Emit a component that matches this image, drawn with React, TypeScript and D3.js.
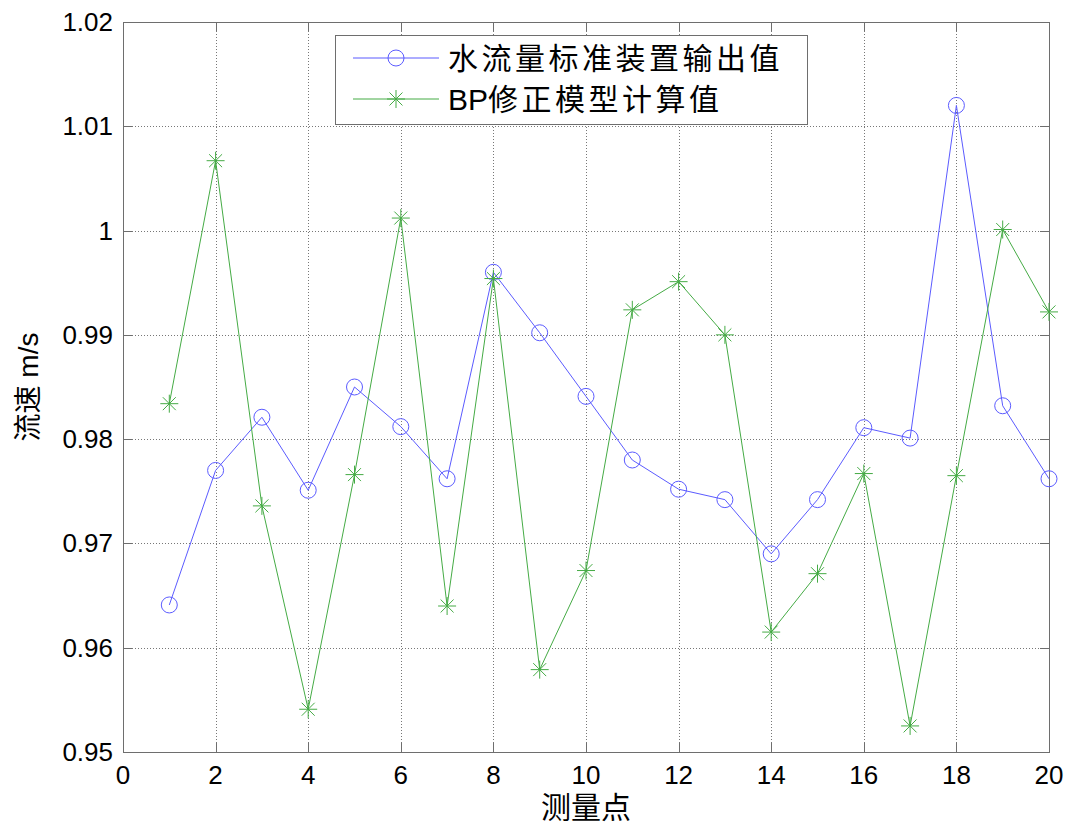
import { useEffect, useRef } from 'react';
import * as d3 from 'd3';

// Measurement point index 1..20
const points = d3.range(1, 21);

// 水流量标准装置输出值 (reference device output)
const standardValues = [
  0.9641, 0.9770, 0.9821, 0.9751, 0.9850, 0.9812, 0.9762, 0.9960, 0.9902, 0.9841,
  0.9780, 0.9752, 0.9742, 0.9690, 0.9742, 0.9811, 0.9801, 1.0120, 0.9832, 0.9762,
];

// BP修正模型计算值 (BP corrected model)
const bpValues = [
  0.9834, 1.0067, 0.9736, 0.9541, 0.9766, 1.0012, 0.9640, 0.9954, 0.9579, 0.9674,
  0.9924, 0.9951, 0.9900, 0.9615, 0.9671, 0.9767, 0.9525, 0.9765, 1.0001, 0.9922,
];

const xTicks = [0, 2, 4, 6, 8, 10, 12, 14, 16, 18, 20];
const yTicks = [0.95, 0.96, 0.97, 0.98, 0.99, 1.0, 1.01, 1.02];
// legend labels: [latin prefix, CJK part]
const legendLabels: [string, string][] = [['', '水流量标准装置输出值'], ['BP', '修正模型计算值']];

const BLUE = '#5b5bff';
const GREEN = '#45ab45';
const FONT = '"Liberation Sans", Arial, sans-serif';
const CJK = '"Liberation Sans", "Noto Sans CJK SC", sans-serif';

export default function App() {
  const svgRef = useRef<SVGSVGElement>(null);

  useEffect(() => {
    if (!svgRef.current) return;
    const W = 1072, H = 826;
    const left = 123, right = 1049, top = 22, bottom = 752;

    const svg = d3.select(svgRef.current);
    svg.selectAll('*').remove();
    svg.attr('width', W).attr('height', H);

    svg.append('rect').attr('width', W).attr('height', H).attr('fill', '#fff');

    const x = d3.scaleLinear().domain([0, 20]).range([left, right]);
    const y = d3.scaleLinear().domain([0.95, 1.02]).range([bottom, top]);

    // grid
    const grid = svg.append('g').attr('stroke', '#777').attr('stroke-width', 1).attr('stroke-dasharray', '1,2');
    grid.selectAll('line.gx')
      .data(xTicks.slice(1, -1))
      .join('line')
      .attr('x1', (d) => Math.round(x(d)) + 0.5).attr('x2', (d) => Math.round(x(d)) + 0.5)
      .attr('y1', top).attr('y2', bottom);
    grid.selectAll('line.gy')
      .data(yTicks.slice(1, -1))
      .join('line')
      .attr('class', 'gy')
      .attr('x1', left).attr('x2', right)
      .attr('y1', (d) => Math.round(y(d)) + 0.5).attr('y2', (d) => Math.round(y(d)) + 0.5);

    // axes box + inward ticks
    const axis = svg.append('g').attr('stroke', '#6e6e6e').attr('stroke-width', 1).attr('fill', 'none');
    axis.append('rect')
      .attr('x', left + 0.5).attr('y', top + 0.5)
      .attr('width', right - left).attr('height', bottom - top);
    xTicks.forEach((t) => {
      const px = Math.round(x(t)) + 0.5;
      axis.append('line').attr('x1', px).attr('x2', px).attr('y1', bottom).attr('y2', bottom - 9);
      axis.append('line').attr('x1', px).attr('x2', px).attr('y1', top).attr('y2', top + 9);
    });
    yTicks.forEach((t) => {
      const py = Math.round(y(t)) + 0.5;
      axis.append('line').attr('x1', left).attr('x2', left + 9).attr('y1', py).attr('y2', py);
      axis.append('line').attr('x1', right).attr('x2', right - 9).attr('y1', py).attr('y2', py);
    });

    // tick labels
    svg.append('g').selectAll('text')
      .data(xTicks)
      .join('text')
      .attr('x', (d) => x(d))
      .attr('y', 784)
      .attr('text-anchor', 'middle')
      .attr('font-family', FONT)
      .attr('font-size', 26)
      .text((d) => String(d));
    svg.append('g').selectAll('text')
      .data(yTicks)
      .join('text')
      .attr('x', 113)
      .attr('y', (d) => y(d) + 9)
      .attr('text-anchor', 'end')
      .attr('font-family', FONT)
      .attr('font-size', 26)
      .text((d) => d3.format('~g')(d));

    // axis titles
    svg.append('text')
      .attr('x', (left + right) / 2)
      .attr('y', 818)
      .attr('text-anchor', 'middle')
      .attr('font-family', CJK)
      .attr('font-size', 30)
      .text('测量点');
    svg.append('text')
      .attr('transform', `translate(38,${(top + bottom) / 2}) rotate(-90)`)
      .attr('text-anchor', 'middle')
      .attr('font-family', CJK)
      .attr('font-size', 28)
      .text('流速 m/s');

    const line = d3.line<number>().x((_, i) => x(points[i])).y((d) => y(d));

    const drawStar = (g: d3.Selection<SVGGElement, unknown, null, undefined>, cx: number, cy: number, r: number) => {
      const d = r * 0.72;
      g.append('path')
        .attr('d', `M${cx - r},${cy}L${cx + r},${cy}M${cx},${cy - r}L${cx},${cy + r}M${cx - d},${cy - d}L${cx + d},${cy + d}M${cx - d},${cy + d}L${cx + d},${cy - d}`)
        .attr('stroke', GREEN).attr('stroke-width', 1).attr('fill', 'none');
    };

    // series: standard (blue circles)
    svg.append('path').datum(standardValues)
      .attr('d', line).attr('fill', 'none').attr('stroke', BLUE).attr('stroke-width', 1);
    svg.append('g').selectAll('circle')
      .data(standardValues)
      .join('circle')
      .attr('cx', (_, i) => x(points[i]))
      .attr('cy', (d) => y(d))
      .attr('r', 8)
      .attr('fill', 'none').attr('stroke', BLUE).attr('stroke-width', 1);

    // series: BP model (green stars)
    svg.append('path').datum(bpValues)
      .attr('d', line).attr('fill', 'none').attr('stroke', GREEN).attr('stroke-width', 1);
    const stars = svg.append('g');
    bpValues.forEach((v, i) => drawStar(stars, x(points[i]), y(v), 9));

    // legend
    const lg = svg.append('g');
    lg.append('rect')
      .attr('x', 335.5).attr('y', 35.5).attr('width', 472).attr('height', 89)
      .attr('fill', '#fff').attr('stroke', '#6e6e6e').attr('stroke-width', 1);
    const rows = [58, 99];
    legendLabels.forEach(([latin, cjk], i) => {
      const ly = rows[i];
      const col = i === 0 ? BLUE : GREEN;
      lg.append('line').attr('x1', 353).attr('x2', 439).attr('y1', ly).attr('y2', ly)
        .attr('stroke', col).attr('stroke-width', 1);
      if (i === 0) {
        lg.append('circle').attr('cx', 396).attr('cy', ly).attr('r', 8)
          .attr('fill', 'none').attr('stroke', BLUE).attr('stroke-width', 1);
      } else {
        drawStar(lg as any, 396, ly, 9);
      }
      const t = lg.append('text')
        .attr('x', 448).attr('y', ly + 11)
        .attr('font-family', CJK)
        .attr('font-size', 30);
      if (latin) t.append('tspan').attr('letter-spacing', 0).text(latin);
      t.append('tspan').attr('letter-spacing', 3.5).text(cjk);
    });
  }, []);

  return <svg ref={svgRef} style={{ display: 'block', position: 'absolute', left: 0, top: 0 }} />;
}
